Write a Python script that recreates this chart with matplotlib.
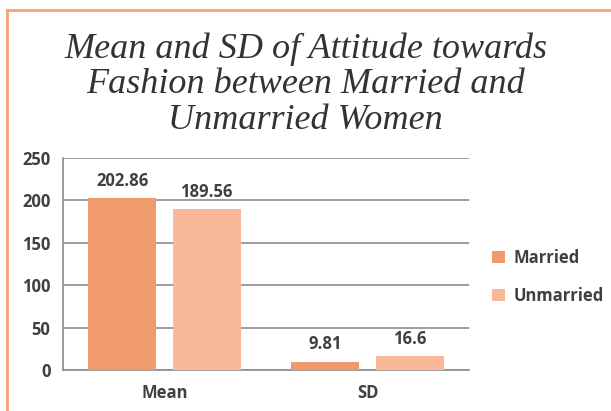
import numpy as np
import matplotlib.pyplot as plt
from matplotlib.lines import Line2D

# data
categories = ["Mean", "SD"]
married = [202.86, 9.81]
unmarried = [189.56, 16.6]
married_labels = ["202.86", "9.81"]
unmarried_labels = ["189.56", "16.6"]

c_married = "#F09B6E"
c_unmarried = "#F9B998"
txt = "#404040"
fnt = "Open Sans"

fig = plt.figure(figsize=(6.11, 4.11), dpi=100)
ax = fig.add_axes([0.1031, 0.0998, 0.6645, 0.5158])

x = np.arange(len(categories))
w = 0.335
off = 0.207
b1 = ax.bar(x - off, married, w, color=c_married, label="Married", zorder=3)
b2 = ax.bar(x + off, unmarried, w, color=c_unmarried, label="Unmarried", zorder=3)

for bars, labs in [(b1, married_labels), (b2, unmarried_labels)]:
    for r, lab in zip(bars, labs):
        ax.annotate(lab, (r.get_x() + r.get_width() / 2, r.get_height()),
                    xytext=(0, 6), textcoords="offset points", ha="center", va="bottom",
                    fontsize=12, fontweight="bold", color=txt, family=fnt)

ax.set_xlim(-0.5, 1.5)
ax.set_ylim(0, 250)
ax.set_yticks([0, 50, 100, 150, 200, 250])
ax.set_xticks(x)
ax.set_xticklabels(categories)
ax.grid(axis="y", color="#8c8c8c", linewidth=1.2, zorder=0)

for s in ["top", "right"]:
    ax.spines[s].set_visible(False)
for s in ["left", "bottom"]:
    ax.spines[s].set_color("#8c8c8c")
    ax.spines[s].set_linewidth(1.2)

ax.tick_params(axis="both", length=0, labelsize=12, colors=txt)
ax.tick_params(axis="y", pad=9)
ax.tick_params(axis="x", pad=10)
for t in ax.get_xticklabels() + ax.get_yticklabels():
    t.set_fontweight("bold")
    t.set_family(fnt)

ax.legend(loc="center left", bbox_to_anchor=(1.02, 0.44), frameon=False,
          prop={"family": fnt, "weight": "bold", "size": 12},
          labelcolor=txt, handlelength=0.8, handleheight=0.8,
          handletextpad=0.5, labelspacing=1.2)

fig.text(0.5, 0.795, "Mean and SD of Attitude towards\nFashion between Married and\nUnmarried Women",
         ha="center", va="center", fontsize=26, style="italic",
         family="Liberation Serif", color="#333333", linespacing=1.1)

# orange frame (left and top)
fig.add_artist(Line2D([7 / 611, 7 / 611], [0, 1 - 10 / 411], transform=fig.transFigure,
                      color="#F4A07A", linewidth=2))
fig.add_artist(Line2D([7 / 611, 1], [1 - 10 / 411, 1 - 10 / 411], transform=fig.transFigure,
                      color="#F4A07A", linewidth=2))

plt.savefig("out.png", dpi=100)
